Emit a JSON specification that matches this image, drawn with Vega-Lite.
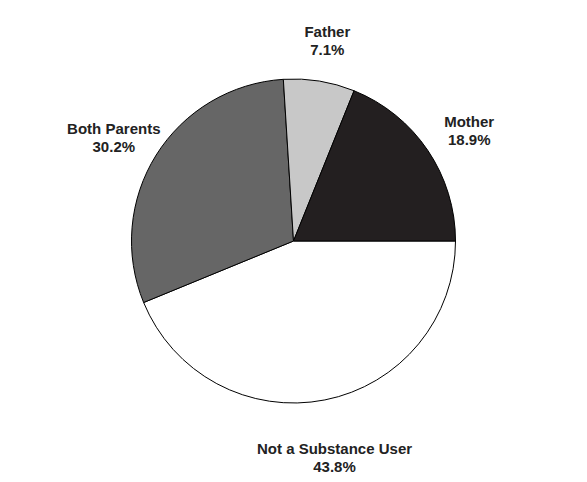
{
  "$schema": "https://vega.github.io/schema/vega-lite/v6.json",
  "autosize": {"type": "fit", "contains": "padding"},
  "width": 587,
  "height": 482,
  "background": "white",
  "data": {
    "values": [
      {"category": "Not a Substance User", "percent": 43.8, "order": 1, "label": "Not a Substance User\n43.8%"},
      {"category": "Both Parents", "percent": 30.2, "order": 2, "label": "Both Parents\n30.2%"},
      {"category": "Father", "percent": 7.1, "order": 3, "label": "Father\n7.1%"},
      {"category": "Mother", "percent": 18.9, "order": 4, "label": "Mother\n18.9%"}
    ]
  },
  "encoding": {
    "theta": {"field": "percent", "type": "quantitative", "stack": true, "scale": {"range": [1.5708, 7.854]}},
    "order": {"field": "order", "type": "ordinal"},
    "color": {
      "field": "category",
      "type": "nominal",
      "scale": {
        "domain": ["Not a Substance User", "Both Parents", "Father", "Mother"],
        "range": ["#ffffff", "#666666", "#c8c8c8", "#231f20"]
      },
      "legend": null
    }
  },
  "layer": [
    {
      "mark": {"type": "arc", "outerRadius": 162, "stroke": "#000000", "strokeWidth": 1}
    },
    {
      "mark": {
        "type": "text",
        "radius": 212,
        "font": "Liberation Sans",
        "fontWeight": "bold",
        "fontSize": 15,
        "lineBreak": "\n",
        "lineHeight": 18,
        "align": "center",
        "baseline": "middle"
      },
      "encoding": {
        "text": {"field": "label"},
        "color": {"value": "#222222"}
      }
    }
  ],
  "config": {"view": {"stroke": null}}
}
